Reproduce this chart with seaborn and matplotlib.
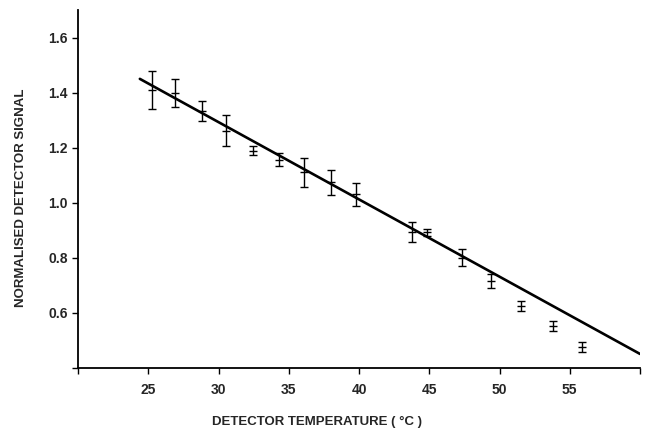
import matplotlib
matplotlib.use("Agg")
import matplotlib.pyplot as plt
import seaborn as sns
import pandas as pd

# Measured detector signal vs. temperature (mean and +/- error)
temperature = [25.3, 26.9, 28.8, 30.55, 32.45, 34.3, 36.1, 38.0, 39.8,
               43.8, 44.85, 47.3, 49.4, 51.5, 53.8, 55.9]
signal = [1.411, 1.398, 1.332, 1.262, 1.189, 1.156, 1.110, 1.074, 1.031,
          0.895, 0.893, 0.801, 0.716, 0.625, 0.552, 0.477]
error = [0.069, 0.052, 0.036, 0.055, 0.017, 0.024, 0.052, 0.045, 0.042,
         0.036, 0.013, 0.032, 0.024, 0.019, 0.019, 0.019]

# Linear fit end points
fit_temperature = [24.4, 60.0]
fit_signal = [1.45, 0.451]

x_ticks = [20, 25, 30, 35, 40, 45, 50, 55, 60]
x_tick_labels = ["", "25", "30", "35", "40", "45", "50", "55", ""]
y_ticks = [0.4, 0.6, 0.8, 1.0, 1.2, 1.4, 1.6]
y_tick_labels = ["", "0.6", "0.8", "1.0", "1.2", "1.4", "1.6"]

sns.set_style("ticks")
plt.rcParams["font.family"] = ["Liberation Sans", "DejaVu Sans"]
plt.rcParams["font.weight"] = "bold"

data = pd.DataFrame({"temperature": temperature, "signal": signal, "error": error})
fit = pd.DataFrame({"temperature": fit_temperature, "signal": fit_signal})

fig = plt.figure(figsize=(6.48, 4.28), dpi=100)
ax = fig.add_axes([0.1204, 0.1402, 0.8673, 0.8364])

sns.lineplot(data=fit, x="temperature", y="signal", ax=ax, color="black",
             linewidth=1.9, legend=False)
ax.errorbar(data["temperature"], data["signal"], yerr=data["error"],
            fmt="none", ecolor="black", elinewidth=1.0, capsize=2.7,
            capthick=1.0)
sns.scatterplot(data=data, x="temperature", y="signal", ax=ax, marker="_",
                s=40, color="black", linewidth=1.0, legend=False)

ax.set_xlim(20, 60)
ax.set_ylim(0.4, 1.7)
ax.set_xticks(x_ticks)
ax.set_xticklabels(x_tick_labels)
ax.set_yticks(y_ticks)
ax.set_yticklabels(y_tick_labels)
ax.tick_params(axis="both", labelsize=10, length=4, width=1.0, color="black")
ax.tick_params(axis="x", pad=7)
ax.tick_params(axis="y", pad=3.5)
for lbl in ax.get_xticklabels() + ax.get_yticklabels():
    lbl.set_fontweight("bold")

ax.set_xlabel("DETECTOR TEMPERATURE ( °C )", fontsize=9.5, fontweight="bold")
ax.set_ylabel("NORMALISED DETECTOR SIGNAL", fontsize=9.5, fontweight="bold")
ax.xaxis.set_label_coords(0.425, -0.135)
ax.yaxis.set_label_coords(-0.09, 0.475)

sns.despine(ax=ax)
for side in ("left", "bottom"):
    ax.spines[side].set_linewidth(1.3)
    ax.spines[side].set_color("black")

fig.savefig("out.png", dpi=100, facecolor="white")
